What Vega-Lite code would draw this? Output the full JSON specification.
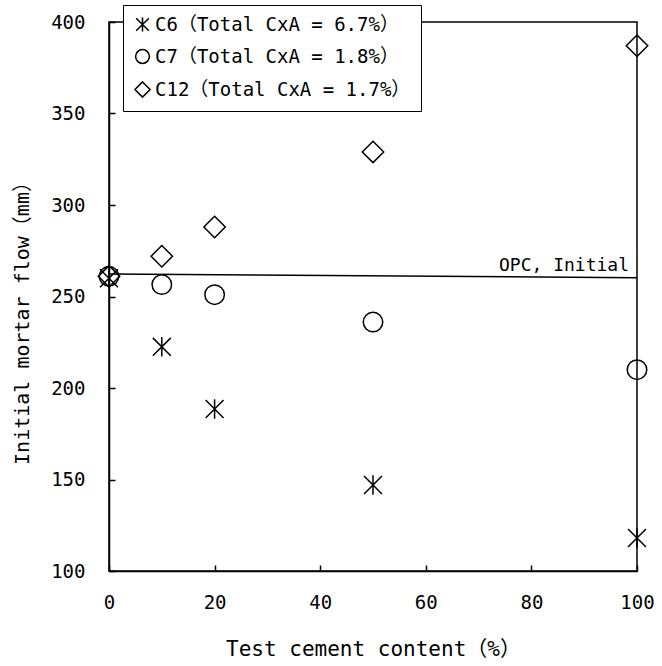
{
  "$schema": "https://vega.github.io/schema/vega-lite/v6.json",
  "width": 528,
  "height": 549,
  "autosize": "none",
  "padding": {"left": 109, "top": 22, "right": 25, "bottom": 95},
  "background": "white",
  "config": {
    "font": "DejaVu Sans Mono, Noto Sans CJK JP",
    "view": {"stroke": "black", "strokeWidth": 1.5},
    "axis": {
      "domainColor": "black",
      "domainWidth": 1.5,
      "tickColor": "black",
      "tickWidth": 1.5,
      "tickSize": -6,
      "grid": false,
      "labelFlush": false,
      "labelColor": "black",
      "labelFontSize": 19,
      "labelFont": "DejaVu Sans Mono, Noto Sans CJK JP",
      "titleColor": "black",
      "titleFontSize": 20,
      "titleFont": "DejaVu Sans Mono, Noto Sans CJK JP",
      "titleFontWeight": "normal"
    }
  },
  "datasets": {
    "flow": [
      {"series": "C6", "content": 0, "flow": 260},
      {"series": "C6", "content": 10, "flow": 222.5},
      {"series": "C6", "content": 20, "flow": 188.5},
      {"series": "C6", "content": 50, "flow": 147},
      {"series": "C6", "content": 100, "flow": 118},
      {"series": "C7", "content": 0, "flow": 261},
      {"series": "C7", "content": 10, "flow": 256.5},
      {"series": "C7", "content": 20, "flow": 251},
      {"series": "C7", "content": 50, "flow": 236},
      {"series": "C7", "content": 100, "flow": 210},
      {"series": "C12", "content": 0, "flow": 261},
      {"series": "C12", "content": 10, "flow": 272},
      {"series": "C12", "content": 20, "flow": 288},
      {"series": "C12", "content": 50, "flow": 329},
      {"series": "C12", "content": 100, "flow": 387}
    ],
    "opc": [
      {"content": 0, "flow": 262.3, "label": ""},
      {"content": 100, "flow": 260.3, "label": "OPC, Initial"}
    ]
  },
  "layer": [
    {
      "data": {"name": "opc"},
      "mark": {"type": "line", "color": "black", "strokeWidth": 1.5},
      "encoding": {
        "x": {"field": "content", "type": "quantitative"},
        "y": {"field": "flow", "type": "quantitative"}
      }
    },
    {
      "data": {"name": "opc"},
      "mark": {"type": "text", "align": "right", "baseline": "bottom", "dx": -8, "dy": -3, "fontSize": 18, "font": "DejaVu Sans Mono", "color": "black"},
      "encoding": {
        "x": {"field": "content", "type": "quantitative"},
        "y": {"field": "flow", "type": "quantitative"},
        "text": {"field": "label"}
      }
    },
    {
      "data": {"name": "flow"},
      "mark": {"type": "point", "filled": false, "strokeWidth": 1.5, "color": "black", "opacity": 1, "size": 380},
      "encoding": {
        "x": {
          "field": "content",
          "type": "quantitative",
          "title": "Test cement content（%）",
          "scale": {"domain": [0, 100], "nice": false, "zero": false},
          "axis": {"values": [0, 20, 40, 60, 80, 100], "labelPadding": 28, "titlePadding": 26, "titleFontSize": 21}
        },
        "y": {
          "field": "flow",
          "type": "quantitative",
          "title": "Initial mortar flow（mm）",
          "scale": {"domain": [100, 400], "nice": false, "zero": false},
          "axis": {"values": [100, 150, 200, 250, 300, 350, 400], "labelPadding": 30, "titlePadding": 18, "titleY": 296}
        },
        "shape": {
          "field": "series",
          "type": "nominal",
          "scale": {
            "domain": ["C6", "C7", "C12"],
            "range": ["M-0.92,-0.92L0.92,0.92M-0.92,0.92L0.92,-0.92M0,-1L0,1", "circle", "M0,-1.1L1.1,0L0,1.1L-1.1,0Z"]
          },
          "legend": {
            "title": null,
            "orient": "none",
            "legendX": 14,
            "legendY": -17,
            "labelExpr": "datum.label == 'C6' ? 'C6（Total CxA = 6.7%）' : datum.label == 'C7' ? 'C7（Total CxA = 1.8%）' : 'C12（Total CxA = 1.7%）'",
            "labelFontSize": 19,
            "labelFont": "DejaVu Sans Mono, Noto Sans CJK JP",
            "labelColor": "black",
            "labelLimit": 400,
            "labelOffset": 3,
            "symbolSize": 190,
            "symbolStrokeWidth": 1.5,
            "symbolStrokeColor": "black",
            "rowPadding": 11,
            "padding": 10,
            "strokeColor": "black",
            "fillColor": "white"
          }
        }
      }
    }
  ]
}
